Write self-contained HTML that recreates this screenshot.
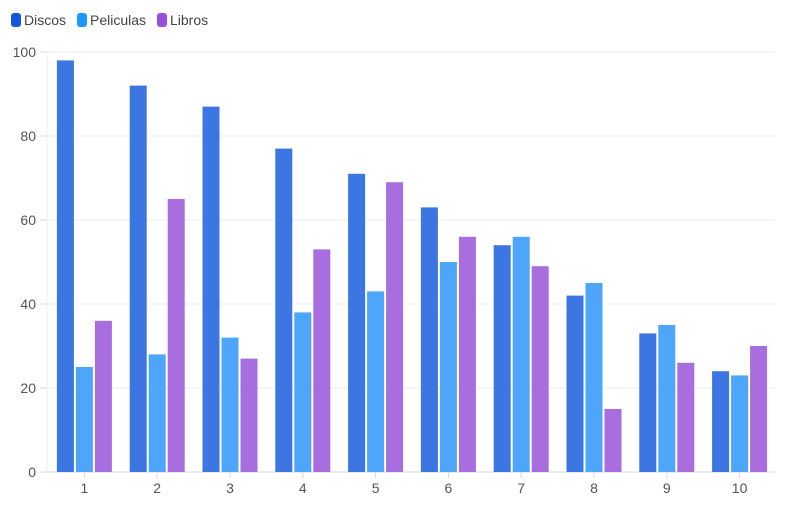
<!DOCTYPE html>
<html><head><meta charset="utf-8"><style>
body{margin:0;background:#fff;font-family:"Liberation Sans",sans-serif;}
svg{display:block}
</style></head><body>
<svg id="chart" width="794" height="508" xmlns="http://www.w3.org/2000/svg"></svg>
<script>
const categories=["1","2","3","4","5","6","7","8","9","10"];
const discos=[98,92,87,77,71,63,54,42,33,24];
const peliculas=[25,28,32,38,43,50,56,45,35,23];
const libros=[36,65,27,53,69,56,49,15,26,30];
const yTicks=[0,20,40,60,80,100];
const seriesNames=["Discos","Peliculas","Libros"];
const svg=document.getElementById('chart');
const NS="http://www.w3.org/2000/svg";
const x0=47,x1=775,yBase=472,yTop=52;
const y=v=>yBase-(v/100)*(yBase-yTop);
const bandW=(x1-x0)/categories.length;
const cx=i=>x0+bandW*(i+0.5)+1;
function mk(t,a){const e=document.createElementNS(NS,t);for(const k in a)e.setAttribute(k,a[k]);svg.appendChild(e);return e;}
yTicks.forEach(t=>{
  const g=mk('line',{x1:x0,x2:x1,y1:y(t),y2:y(t),stroke:t===0?'#d8d8d8':'#ececec','stroke-width':1});
  
  
  const tk=mk('line',{x1:40,x2:x0,y1:y(t),y2:y(t),stroke:'#d8d8d8'});
  
  
  const l=mk('text',{x:36,y:y(t)+5,'text-anchor':'end','font-size':14,fill:'#555'});
  l.textContent=t;
  
  
});
mk('line',{x1:x0,x2:x0,y1:yTop,y2:yBase,stroke:'#ececec'});
const colors=['#3b76e2','#4ea6fb','#a86ddf'];
const series=[discos,peliculas,libros];
const bw=17,gap=2;
categories.forEach((c,i)=>{
  series.forEach((s,j)=>{
    const bx=cx(i)-(bw*1.5+gap)+j*(bw+gap);
    const r=mk('rect',{x:bx,y:y(s[i]),width:bw,height:yBase-y(s[i]),fill:colors[j]});
    
    
  });
  const tk=mk('line',{x1:cx(i),x2:cx(i),y1:yBase,y2:yBase+6,stroke:'#d8d8d8'});
  
  
  const l=mk('text',{x:cx(i),y:yBase+21,'text-anchor':'middle','font-size':14,fill:'#555'});
  l.textContent=c;
  
  
});
const legendX=[11,77,157];
const legColors=['#1456e0','#1e96ff','#9650db'];
seriesNames.forEach((n,j)=>{
  const m=mk('rect',{x:legendX[j],y:13,width:10,height:14,rx:3,fill:legColors[j]});
  
  
  const t=mk('text',{x:legendX[j]+13,y:25,'font-size':14,fill:'#444'});
  t.textContent=n;
  
  
});
</script>
</body></html>
